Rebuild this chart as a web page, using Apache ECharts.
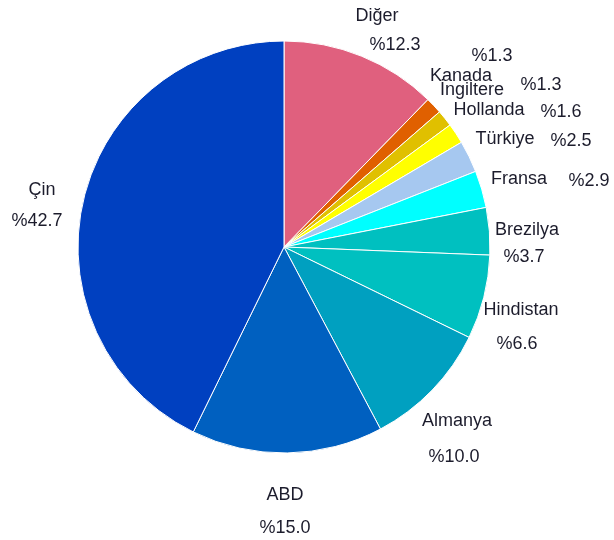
<!DOCTYPE html>
<html>
<head>
<meta charset="utf-8">
<script src="https://cdn.jsdelivr.net/npm/echarts@6/dist/echarts.min.js"></script>
<style>
  html, body { margin: 0; padding: 0; background: #fff; }
  #chart { width: 614px; height: 540px; }
</style>
</head>
<body>
<div id="chart"></div>
<script>
// Country shares (%), clockwise from 12 o'clock
const countries = ['Diğer', 'Kanada', 'İngiltere', 'Hollanda', 'Türkiye', 'Fransa',
                   'Brezilya', 'Hindistan', 'Almanya', 'ABD', 'Çin'];
const shares = [12.3, 1.3, 1.3, 1.6, 2.5, 2.9, 3.7, 6.6, 10.0, 15.0, 42.7];

// Slice colours
const sliceColors = ['#e0607e', '#e06000', '#e0c000', '#ffff00', '#a6c8f0', '#00ffff',
                     '#00c0c0', '#00c0c0', '#00a0c0', '#0060c0', '#0040c0'];

// Label anchor points (centre of each text) for names and percentages
const nameSpots = [[377, 16], [461, 76], [472, 90], [489, 110], [505, 139], [519, 179],
                   [527, 230], [521, 310], [457, 421], [285, 495], [42, 190]];
const pctSpots = [[395, 45], [492, 56], [541, 85], [561, 112], [571, 141], [589, 181],
                  [524, 257], [517, 344], [454, 457], [285, 528], [37, 221]];

const textStyle = {
  fontFamily: '"Liberation Sans", Arial, sans-serif',
  fontSize: 18,
  color: '#1c1c2c'
};

const data = countries.map((n, i) => ({
  name: n,
  value: shares[i],
  itemStyle: { color: sliceColors[i] }
}));

const center = [284, 247];
const radius = 206;

function layoutFrom(spots) {
  return function (params) {
    const p = spots[params.dataIndex];
    return { x: p[0], y: p[1], align: 'center', verticalAlign: 'middle' };
  };
}

const chart = echarts.init(document.getElementById('chart'), null, { renderer: 'canvas' });
chart.setOption({
  animation: false,
  backgroundColor: '#ffffff',
  series: [
    {
      type: 'pie',
      center: center,
      radius: [0, radius],
      startAngle: 90,
      clockwise: true,
      avoidLabelOverlap: false,
      itemStyle: { borderColor: '#ffffff', borderWidth: 1 },
      label: Object.assign({ show: true, position: 'outside', formatter: '{b}' }, textStyle),
      labelLine: { show: false },
      labelLayout: layoutFrom(nameSpots),
      emphasis: { disabled: true },
      data: data
    },
    {
      type: 'pie',
      center: center,
      radius: [0, radius],
      startAngle: 90,
      clockwise: true,
      avoidLabelOverlap: false,
      silent: true,
      itemStyle: { color: 'rgba(0,0,0,0)', borderWidth: 0 },
      label: Object.assign({
        show: true, position: 'outside',
        formatter: p => '%' + p.value.toFixed(1)
      }, textStyle),
      labelLine: { show: false },
      labelLayout: layoutFrom(pctSpots),
      emphasis: { disabled: true },
      data: shares.map((v, i) => ({ name: countries[i], value: v }))
    }
  ]
});
</script>
</body>
</html>
